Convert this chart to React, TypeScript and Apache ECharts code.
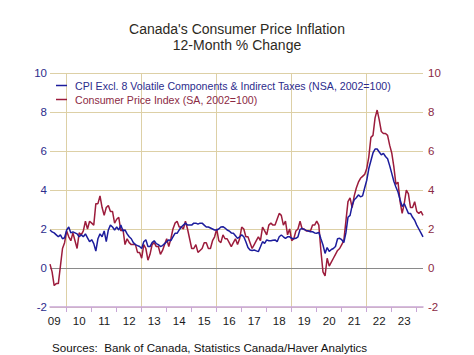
import React, { useEffect, useRef } from "react";
import * as echarts from "echarts";

const FONT = '"Liberation Sans", Arial, sans-serif';

// First month of data: May 2009 (monthly through Apr 2024)
const START_YEAR = 2009;
const START_MONTH = 5;

const TITLE_1 = "Canada's Consumer Price Inflation";
const TITLE_2 = "12-Month % Change";
const SOURCE = "Sources:  Bank of Canada, Statistics Canada/Haver Analytics";
const BLUE_NAME = "CPI Excl. 8 Volatile Components & Indirect Taxes (NSA, 2002=100)";
const RED_NAME = "Consumer Price Index (SA, 2002=100)";

// CPI excl. 8 volatile components & indirect taxes, 12-month % change
const cpix2009 = [1.95, 1.85, 1.8, 1.7, 1.6, 1.7, 1.5, 1.55];
const cpix2010 = [1.95, 2.1, 1.8, 1.85, 1.8, 1.75, 1.6, 1.7, 1.6, 1.75, 1.55, 1.35];
const cpix2011 = [1.45, 1.25, 0.87, 1.5, 1.75, 1.6, 1.9, 1.35, 1.95, 2.2, 2.1, 1.95];
const cpix2012 = [2.1, 1.95, 2.2, 1.9, 1.95, 1.75, 1.6, 1.5, 1.3, 1.2, 1.15, 1.1];
const cpix2013 = [1.0, 1.35, 1.45, 1.1, 1.1, 1.3, 1.4, 1.25, 1.2, 1.1, 1.15, 1.25];
const cpix2014 = [1.35, 1.44, 1.4, 1.6, 1.78, 1.78, 1.95, 2.1, 2.2, 2.3, 2.2, 2.2];
const cpix2015 = [2.2, 2.3, 2.3, 2.25, 2.3, 2.3, 2.2, 2.1, 2.1, 2.05, 2.0, 1.95];
const cpix2016 = [1.95, 2.0, 2.1, 2.12, 2.05, 1.95, 1.9, 1.8, 1.78, 1.65, 1.52, 1.6];
const cpix2017 = [1.7, 1.6, 1.35, 1.05, 0.92, 0.9, 0.92, 0.88, 0.84, 1.09, 1.35, 1.26];
const cpix2018 = [1.44, 1.4, 1.4, 1.42, 1.44, 1.35, 1.6, 1.69, 1.6, 1.52, 1.6, 1.6];
const cpix2019 = [1.52, 1.5, 1.52, 1.6, 1.98, 2.03, 1.97, 1.93, 1.9, 1.86, 1.86, 1.8];
const cpix2020 = [1.78, 1.83, 1.5, 1.18, 0.75, 1.05, 0.85, 0.95, 1.0, 1.1, 1.5, 1.52];
const cpix2021 = [1.45, 1.3, 1.8, 2.6, 2.7, 3.2, 3.5, 3.6, 3.75, 3.65, 3.7, 4.1];
const cpix2022 = [4.5, 5.1, 5.5, 5.9, 6.1, 6.1, 5.95, 5.8, 5.88, 5.72, 5.6, 5.25];
const cpix2023 = [4.85, 4.45, 4.15, 3.9, 3.5, 3.15, 3.3, 3.05, 2.8, 2.8, 2.6, 2.45];
const cpix2024 = [2.2, 2.0, 1.8, 1.6];

// Consumer Price Index, 12-month % change
const cpi2009 = [0.2, -0.2, -0.9, -0.8, -0.8, 0.1, 1.0, 1.3];
const cpi2010 = [1.9, 1.6, 1.4, 1.8, 1.4, 1.0, 1.8, 1.7, 1.9, 2.4, 2.0, 2.4];
const cpi2011 = [2.3, 2.2, 3.3, 3.3, 3.7, 3.1, 2.7, 3.1, 3.2, 2.9, 2.9, 2.3];
const cpi2012 = [2.5, 2.6, 1.9, 2.0, 1.2, 1.5, 1.3, 1.2, 1.2, 1.2, 0.8, 0.8];
const cpi2013 = [0.5, 1.2, 1.0, 0.4, 0.7, 1.2, 1.3, 1.1, 1.1, 0.7, 0.9, 1.2];
const cpi2014 = [1.5, 1.1, 1.5, 2.0, 2.3, 2.4, 2.1, 2.1, 2.0, 2.4, 2.0, 1.5];
const cpi2015 = [1.0, 1.0, 1.2, 0.8, 0.9, 1.0, 1.3, 1.3, 1.0, 1.0, 1.4, 1.6];
const cpi2016 = [2.0, 1.4, 1.3, 1.7, 1.5, 1.5, 1.3, 1.1, 1.3, 1.5, 1.2, 1.5];
const cpi2017 = [2.1, 2.0, 1.6, 1.6, 1.3, 1.0, 1.2, 1.4, 1.6, 1.4, 2.1, 1.9];
const cpi2018 = [1.7, 2.2, 2.3, 2.2, 2.2, 2.5, 2.8, 2.7, 2.2, 2.4, 1.7, 2.0];
const cpi2019 = [1.4, 1.5, 1.9, 2.0, 2.4, 2.0, 2.0, 1.9, 1.9, 1.9, 2.2, 2.2];
const cpi2020 = [2.4, 2.2, 0.9, -0.2, -0.4, 0.5, 0.1, 0.3, 0.5, 0.7, 0.9, 1.0];
const cpi2021 = [1.2, 1.4, 2.4, 3.4, 3.6, 3.1, 3.7, 4.1, 4.4, 4.6, 4.7, 4.8];
const cpi2022 = [5.1, 5.7, 6.7, 6.8, 7.7, 8.1, 7.6, 7.0, 6.9, 6.9, 6.8, 6.3];
const cpi2023 = [5.9, 5.2, 4.3, 4.4, 3.4, 2.8, 3.3, 4.0, 3.8, 3.1, 3.1, 3.4];
const cpi2024 = [2.9, 2.8, 2.9, 2.7];

const cpixValues = [
  ...cpix2009, ...cpix2010, ...cpix2011, ...cpix2012, ...cpix2013, ...cpix2014,
  ...cpix2015, ...cpix2016, ...cpix2017, ...cpix2018, ...cpix2019, ...cpix2020,
  ...cpix2021, ...cpix2022, ...cpix2023, ...cpix2024,
];
const cpiValues = [
  ...cpi2009, ...cpi2010, ...cpi2011, ...cpi2012, ...cpi2013, ...cpi2014,
  ...cpi2015, ...cpi2016, ...cpi2017, ...cpi2018, ...cpi2019, ...cpi2020,
  ...cpi2021, ...cpi2022, ...cpi2023, ...cpi2024,
];

// Monthly categories "YYYY-MM"
const months: string[] = cpiValues.map((_, i) => {
  const m0 = START_MONTH - 1 + i;
  const y = START_YEAR + Math.floor(m0 / 12);
  const m = (m0 % 12) + 1;
  return `${y}-${m < 10 ? "0" + m : m}`;
});

const Y_MIN = -2;
const Y_MAX = 10;
const Y_STEP = 2;

const GRID_COLOR = "#ddd0a6";
const AXIS_COLOR = "#c9a6d6";
const BLUE = "#1c1c9c";
const RED = "#9c1c3c";
const BLUE_TEXT = "#2c2c8c";
const RED_TEXT = "#8c2a44";
const TITLE_COLOR = "#2d2a1e";

export default function App() {
  const ref = useRef<HTMLDivElement>(null);
  useEffect(() => {
    if (!ref.current) return;
    const chart = echarts.init(ref.current, undefined, { renderer: "svg" });
    const isJan = (_i: number, v: string) => v.slice(5) === "01";
    const isJul = (_i: number, v: string) => v.slice(5) === "07";
    const isSplit = (_i: number, v: string) =>
      v.slice(5) === "01" && (parseInt(v.slice(0, 4), 10) - 2010) % 3 === 0;
    const legendBase = {
      left: 56,
      padding: 0,
      icon: "rect",
      itemWidth: 11,
      itemHeight: 1.5,
      selectedMode: false,
      textStyle: { fontFamily: FONT, fontSize: 10.6, padding: [0, 0, 0, 3] },
    };
    chart.setOption({
      animation: false,
      backgroundColor: "#ffffff",
      legend: [
        { ...legendBase, top: 80, data: [{ name: BLUE_NAME, textStyle: { color: BLUE_TEXT } }] },
        { ...legendBase, top: 94, data: [{ name: RED_NAME, textStyle: { color: RED_TEXT } }] },
      ],
      grid: { left: 50, right: 51, top: 73, bottom: 48 },
      xAxis: {
        type: "category",
        data: months,
        boundaryGap: false,
        axisLine: { onZero: false, lineStyle: { color: AXIS_COLOR, width: 1.5 } },
        axisTick: { show: true, interval: isJan, length: 5, lineStyle: { color: AXIS_COLOR, width: 1 } },
        axisLabel: {
          interval: isJul,
          formatter: (v: string) => v.slice(2, 4),
          color: "#1a1a1a",
          fontSize: 11.5,
          fontFamily: FONT,
          margin: 8,
        },
        splitLine: { show: true, interval: isSplit, lineStyle: { color: GRID_COLOR, width: 1 } },
      },
      yAxis: [
        {
          type: "value",
          position: "left",
          min: Y_MIN,
          max: Y_MAX,
          interval: Y_STEP,
          axisLine: { show: false },
          axisTick: { show: false },
          axisLabel: { color: BLUE_TEXT, fontSize: 11.5, fontFamily: FONT, margin: 3 },
          splitLine: { show: true, lineStyle: { color: GRID_COLOR, width: 1 } },
        },
        {
          type: "value",
          position: "right",
          min: Y_MIN,
          max: Y_MAX,
          interval: Y_STEP,
          axisLine: { show: false },
          axisTick: { show: false },
          axisLabel: { color: RED_TEXT, fontSize: 11.5, fontFamily: FONT, margin: 5 },
          splitLine: { show: false },
        },
      ],
      graphic: [
        {
          type: "text",
          x: 237,
          y: 29,
          style: {
            text: TITLE_1,
            fontFamily: FONT,
            fontSize: 14,
            fill: TITLE_COLOR,
            align: "center",
            verticalAlign: "middle",
          },
        },
        {
          type: "text",
          x: 237,
          y: 45,
          style: {
            text: TITLE_2,
            fontFamily: FONT,
            fontSize: 14,
            fill: TITLE_COLOR,
            align: "center",
            verticalAlign: "middle",
          },
        },
        {
          type: "text",
          x: 52,
          y: 347,
          style: {
            text: SOURCE,
            fontFamily: FONT,
            fontSize: 11.6,
            fill: "#111111",
            align: "left",
            verticalAlign: "middle",
          },
        },
      ],
      series: [
        {
          name: RED_NAME,
          type: "line",
          data: cpiValues,
          symbol: "none",
          color: RED,
          lineStyle: { color: RED, width: 1.5 },
          z: 3,
          markLine: {
            silent: true,
            symbol: "none",
            label: { show: false },
            lineStyle: { color: "#8a8a8a", width: 1, type: "solid" },
            data: [{ yAxis: 0 }],
            z: 2,
          },
        },
        {
          name: BLUE_NAME,
          type: "line",
          data: cpixValues,
          symbol: "none",
          color: BLUE,
          lineStyle: { color: BLUE, width: 1.5 },
          z: 4,
        },
      ],
    });
    return () => chart.dispose();
  }, []);
  return (
    <div
      ref={ref}
      style={{ position: "absolute", left: 0, top: 0, width: 474, height: 355, background: "#fff" }}
    />
  );
}
